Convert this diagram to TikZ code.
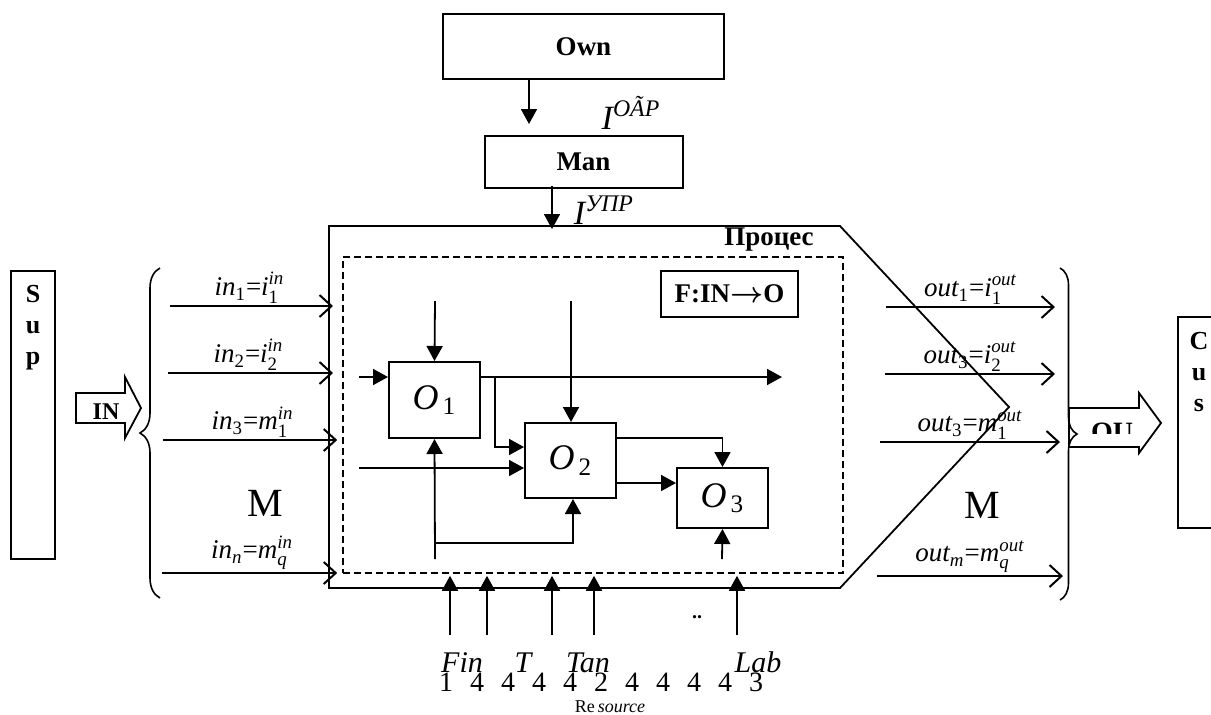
\documentclass[tikz,border=0pt]{standalone}
\usepackage{amsmath}
\usepackage{fontspec}
\setmainfont{Liberation Serif}
\usetikzlibrary{positioning,arrows.meta,decorations.pathreplacing}

\begin{document}
\begin{tikzpicture}[
    x=0.5pt, y=-0.5pt,
    line width=0.9pt,
    orgbox/.style={
        rectangle, draw=black, line width=1pt,
        inner sep=0pt,
        font=\fontsize{13.5}{15}\selectfont\bfseries
    },
    opbox/.style={
        rectangle, draw=black, line width=1pt,
        minimum width=45.5pt, inner sep=0pt,
        font=\fontsize{18}{20}\selectfont
    },
    letters/.style={
        align=center, inner sep=0pt,
        font=\fontsize{13}{15.5}\selectfont\bfseries
    },
    tri/.style={-{Triangle[length=7.5pt,width=8pt]}, line width=0.9pt},
    barb/.style={-{Straight Barb[length=6pt,width=11pt]}, line width=1pt},
    lbl/.style={font=\fontsize{13.5}{16}\selectfont, inner sep=1pt},
    brc/.style={decorate, line width=0.8pt}
]
\useasboundingbox (0,0) rectangle (1211,714);

% Owner and management
\node[orgbox, minimum width=140.5pt, minimum height=32.5pt] (own) at (583.5,46.5) {Own};
\node[orgbox, minimum width=99pt, minimum height=26pt, below=27.5pt of own] (man) {Man};

\coordinate (ownout) at (529,79);
\draw[tri, shorten >=5.5pt] (ownout) -- (ownout |- man.north);
\node[font=\fontsize{17}{20}\selectfont] (iown) at (631,113) {$\textit{I}^{\textit{OÃP}}$};

% Process outline
\coordinate (pNW) at (329,226);
\coordinate (pNE) at (840,226);
\coordinate (pE) at (1009,407);
\coordinate (pSE) at (840,588);
\coordinate (pSW) at (329,588);
\draw (pNW) -- (pNE) -- (pE) -- (pSE) -- (pSW) -- cycle;
\node[font=\fontsize{13.5}{15}\selectfont\bfseries] (proclabel) at (769,240) {Процес};

\coordinate (manout) at (552,186);
\draw[tri, shorten >=-1.5pt] (manout) -- (manout |- pNW);
\node[font=\fontsize{17}{20}\selectfont] (iman) at (604,210) {$\textit{I}^{\textit{УПР}}$};

\node[draw, dash pattern=on 3.5pt off 2pt, line width=0.8pt,
      minimum width=250pt, minimum height=158pt, inner sep=0pt] (inner) at (593,415) {};
\node[orgbox, minimum width=68.5pt, minimum height=23pt] (func) at (729.5,294)
    {F:IN$\boldsymbol{\rightarrow}$O};

% Operations
\node[opbox, minimum height=38pt] (o1) at (434.5,400) {$\textit{O}_{\,\text{1}}$};
\node[opbox, minimum height=37.5pt] (o2) at (570.5,460.5) {$\textit{O}_{\,\text{2}}$};
\node[opbox, minimum height=30pt] (o3) at (722.5,498) {$\textit{O}_{\,\text{3}}$};

\coordinate (o1top) at (435,301);
\coordinate (o1in) at (359,377);
\coordinate (o1out) at (782,377);
\coordinate (o1br) at (495,377);
\coordinate (o2top) at (571,301);
\coordinate (o2in) at (359,468);
\coordinate (o1bot) at (435,559);
\coordinate (fb) at (435,543);
\coordinate (o3bot) at (722,559);

\draw[tri] (o1top) -- (o1.north);
\draw[tri] (o1in) -- (o1in -| o1.west);
\draw[tri] (o1out -| o1.east) -- (o1out);
\draw[tri] (o2top) -- (o2top |- o2.north);
\draw[tri] (o1br) |- ([yshift=6.75pt]o2.west);
\draw[tri] (o2in) -- (o2in -| o2.west);
\draw[tri] (o1bot) -- (o1.south);
\draw[tri] (fb) -| ([xshift=1.25pt]o2.south);
\draw[tri] ([yshift=11.25pt]o2.east) -| (o3.north);
\draw[tri] ([yshift=-11.25pt]o2.east) -- ([yshift=7.5pt]o3.west);
\draw[tri] (o3bot) -- (o3.south);

% Supplier side
\node[orgbox, minimum width=22pt, minimum height=144pt] (sup) at (33,415) {};
\node[letters, below=7pt of sup.north] (suptext) {S\\u\\p};

\draw (76,393) -- (125,393) -- (125,377) -- (141,408) -- (125,438) -- (125,423) -- (76,423) -- cycle;
\node[font=\fontsize{12}{14}\selectfont\bfseries] (inlabel) at (106,412) {IN};

\draw[brc, decoration={brace, amplitude=10pt}] (160,598) -- (160,268);

\coordinate (in1) at (170,306);
\coordinate (in2) at (168,373);
\coordinate (in3) at (163,440);
\coordinate (inn) at (162,573);
\draw[barb, shorten >=-2pt] (in1) -- (in1 -| pNW)
    node[lbl, midway, above] (in1lbl) {$\textit{in}_{\text{1}}{\text{=}}\textit{i}_{\text{1}}^{\textit{in}}$};
\draw[barb, shorten >=-2pt] (in2) -- (in2 -| pNW)
    node[lbl, midway, above] (in2lbl) {$\textit{in}_{\text{2}}{\text{=}}\textit{i}_{\text{2}}^{\textit{in}}$};
\draw[barb, shorten >=2.5pt] (in3) -- (in3 -| inner.west)
    node[lbl, midway, above] (in3lbl) {$\textit{in}_{\text{3}}{\text{=}}\textit{m}_{\text{1}}^{\textit{in}}$};
\draw[barb, shorten >=2.5pt] (inn) -- (inn -| inner.west)
    node[lbl, midway, above] (innlbl) {$\textit{in}_{\textit{n}}{\text{=}}\textit{m}_{\textit{q}}^{\textit{in}}$};
\node[font=\fontsize{20}{22}\selectfont] (minl) at (265,503) {M};

% Customer side
\coordinate (out1a) at (886,307);
\coordinate (out1b) at (1055,307);
\coordinate (out2a) at (885,374);
\coordinate (out2b) at (1055,374);
\coordinate (out3a) at (880,442);
\coordinate (out3b) at (1060,442);
\coordinate (outma) at (877,576);
\coordinate (outmb) at (1063,576);
\draw[barb] (out1a) -- (out1b)
    node[lbl, midway, above] (out1lbl) {$\textit{out}_{\text{1}}{\text{=}}\textit{i}_{\text{1}}^{\textit{out}}$};
\draw[barb] (out2a) -- (out2b)
    node[lbl, midway, above] (out2lbl) {$\textit{out}_{\text{3}}{\text{=}}\textit{i}_{\text{2}}^{\textit{out}}$};
\draw[barb] (out3a) -- (out3b)
    node[lbl, midway, above] (out3lbl) {$\textit{out}_{\text{3}}{\text{=}}\textit{m}_{\text{1}}^{\textit{out}}$};
\draw[barb] (outma) -- (outmb)
    node[lbl, midway, above] (outmlbl) {$\textit{out}_{\textit{m}}{\text{=}}\textit{m}_{\textit{q}}^{\textit{out}}$};
\node[font=\fontsize{20}{22}\selectfont] (moutl) at (982,505) {M};

\draw[brc, decoration={brace, amplitude=8.5pt}] (1060,268) -- (1060,600);

\draw (1069,408) -- (1139,408) -- (1139,393) -- (1161,423) -- (1139,453) -- (1139,447) -- (1069,447) -- cycle;
\begin{scope}
    \clip (1069,408) rectangle (1139,433);
    \node[font=\fontsize{14}{16}\selectfont\bfseries, anchor=base] (oulabel) at (1112,441) {OU};
\end{scope}

\node[orgbox, minimum width=21pt, minimum height=105.5pt] (cus) at (1199,422.5) {};
\node[letters, below=7.5pt of cus.north] (custext) {C\\u\\s};

% Resources
\foreach \x [count=\k] in {450,487,552,594,737} {
    \coordinate (res\k) at (\x,635);
    \draw[tri, shorten >=1pt] (res\k) -- (res\k |- inner.south);
}
\node[font=\fontsize{10}{12}\selectfont\bfseries] (dots) at (697,617) {..};

\node[font=\fontsize{15}{17}\selectfont\itshape, anchor=base] (fin) at (462,672) {Fin};
\node[font=\fontsize{15}{17}\selectfont\itshape, anchor=base] (tim) at (523,672) {T};
\node[font=\fontsize{15}{17}\selectfont\itshape, anchor=base] (tan) at (588,672) {Tan};
\node[font=\fontsize{15}{17}\selectfont\itshape, anchor=base] (lab) at (758,672) {Lab};
\foreach \d [count=\k] in {1,4,4,4,4,2,4,4,4,4,3}
    \node[font=\fontsize{14}{16}\selectfont, anchor=base] (dig\k) at ({446+31*(\k-1)},691) {\d};
\node[font=\fontsize{9}{10}\selectfont, anchor=base] (reslabel) at (610,712) {Re\,\textit{source}};

\end{tikzpicture}
\end{document}
